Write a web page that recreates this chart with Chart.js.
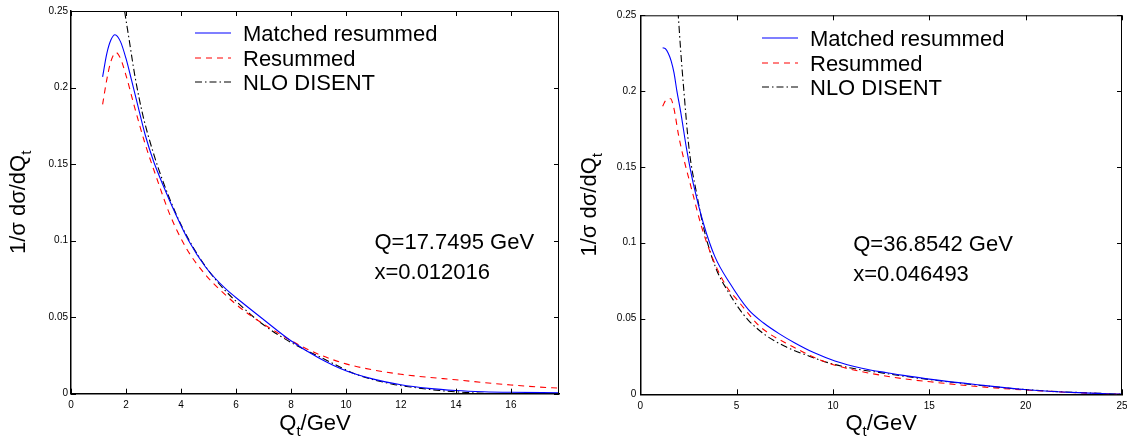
<!DOCTYPE html>
<html>
<head>
<meta charset="utf-8">
<script src="https://cdn.jsdelivr.net/npm/chart.js@4.4.0/dist/chart.umd.min.js"></script>
<style>
    html, body { margin: 0; padding: 0; background: #fff; overflow: hidden; }
    canvas { position: absolute; top: 0; }
    #leftChart { left: 0; }
    #rightChart { left: 563px; }
</style>
</head>
<body>
<canvas id="leftChart" width="563" height="436"></canvas>
<canvas id="rightChart" width="564" height="436"></canvas>
<script>
// axis ticks
const yTicks = [0, 0.05, 0.1, 0.15, 0.2, 0.25];
const yTickLabels = ['0', '0.05', '0.1', '0.15', '0.2', '0.25'];
const leftXTicks = [0, 2, 4, 6, 8, 10, 12, 14, 16];
const rightXTicks = [0, 5, 10, 15, 20, 25];
const leftXMax = 17.7495;
const rightXMax = 25;

const seriesNames = ['Matched resummed', 'Resummed', 'NLO DISENT'];
const leftInfo = ['Q=17.7495 GeV', 'x=0.012016'];
const rightInfo = ['Q=36.8542 GeV', 'x=0.046493'];
// the note sits at Qt = 11, one line at 0.1 and one at 0.08 in both panels
const infoQt = 11;
const infoVals = [0.1, 0.08];

// left panel (Q = 17.7495 GeV)
const leftMatchedQt = [1.15, 1.3, 1.45, 1.6, 1.8, 2.0, 2.2, 2.4, 2.7, 3.0, 3.4, 3.8, 4.27, 4.9, 5.6, 6.2, 7.0, 8.0, 9.0, 10.0, 11.0, 12.0, 13.0, 14.0, 15.0, 16.0, 17.75];
const leftMatchedVal = [0.207, 0.222, 0.231, 0.2345, 0.230, 0.219, 0.205, 0.1905, 0.169, 0.152, 0.134, 0.1175, 0.1002, 0.0826, 0.0689, 0.0599, 0.0485, 0.0346, 0.0235, 0.015, 0.0095, 0.0058, 0.0035, 0.0021, 0.0013, 0.0009, 0.0006];
const leftResumQt = [1.15, 1.3, 1.45, 1.64, 1.8, 2.0, 2.3, 2.7, 3.1, 3.6, 4.2, 4.9, 5.5, 6.2, 7.0, 8.3, 9.0, 10.0, 11.0, 12.0, 13.0, 14.0, 15.0, 16.0, 17.0, 17.75];
const leftResumVal = [0.189, 0.205, 0.217, 0.2228, 0.219, 0.208, 0.188, 0.163, 0.1417, 0.1168, 0.0948, 0.0775, 0.0665, 0.0555, 0.0455, 0.0318, 0.0258, 0.0195, 0.0155, 0.0127, 0.0107, 0.0091, 0.0073, 0.0057, 0.0044, 0.0036];
const leftNloQt = [1.88, 1.95, 2.1, 2.33, 2.6, 3.0, 3.36, 3.7, 4.08, 4.69, 5.4, 6.33, 7.0, 8.2, 9.0, 10.4, 11.7, 12.5, 13.4, 14.2, 15.0, 15.5];
const leftNloVal = [0.259, 0.25, 0.233, 0.207, 0.183, 0.157, 0.138, 0.1225, 0.1075, 0.0885, 0.0715, 0.055, 0.045, 0.0315, 0.0245, 0.0125, 0.0062, 0.004, 0.0021, 0.001, 0.0002, 0];

// right panel (Q = 36.8542 GeV)
const rightMatchedQt = [1.16, 1.3, 1.45, 1.6, 1.75, 1.9, 2.1, 2.4, 2.75, 3.27, 3.87, 4.65, 5.6, 6.4, 7.2, 8.0, 9.0, 10.1, 11.5, 12.8, 14.0, 15.0, 17.5, 20.1, 22.7, 25];
const rightMatchedVal = [0.2286, 0.228, 0.225, 0.220, 0.212, 0.200, 0.186, 0.162, 0.139, 0.113, 0.0908, 0.0732, 0.056, 0.047, 0.040, 0.034, 0.0275, 0.022, 0.0172, 0.0142, 0.0118, 0.010, 0.0063, 0.003, 0.0011, 0.0001];
const rightResumQt = [1.16, 1.3, 1.45, 1.58, 1.7, 1.8, 1.97, 2.15, 2.67, 3.18, 3.79, 4.48, 5.05, 5.43, 6.18, 7.87, 9.75, 12.8, 15.6, 18.4, 22.2, 25];
const rightResumVal = [0.190, 0.1935, 0.1948, 0.195, 0.191, 0.185, 0.172, 0.161, 0.135, 0.1105, 0.0886, 0.071, 0.062, 0.056, 0.045, 0.0317, 0.0207, 0.0119, 0.0075, 0.0042, 0.0013, 0];
const rightNloQt = [1.9, 1.97, 2.1, 2.23, 2.54, 2.9, 3.36, 3.96, 4.5, 5.1, 5.6, 6.5, 7.5, 8.8, 10.1, 12.8, 15.6, 20.1, 25];
const rightNloVal = [0.262, 0.25, 0.226, 0.205, 0.161, 0.134, 0.106, 0.082, 0.069, 0.057, 0.049, 0.039, 0.0317, 0.025, 0.0196, 0.0136, 0.0088, 0.003, 0];

const lineStyles = [
    { color: '#0000ff', dash: [] },
    { color: '#ff0000', dash: [6, 5] },
    { color: '#000000', dash: [7, 3, 1.5, 3] }
];

const FONT = '"Liberation Sans", Arial, Helvetica, sans-serif';

// draw a string made of parts, some of them subscripts
function drawParts(ctx, parts, x, y, size) {
    const subSize = Math.round(size * 0.7);
    let w = 0;
    parts.forEach(p => {
        ctx.font = (p.sub ? subSize : size) + 'px ' + FONT;
        p.w = ctx.measureText(p.t).width;
        w += p.w;
    });
    let cx = x - w / 2;
    parts.forEach(p => {
        ctx.font = (p.sub ? subSize : size) + 'px ' + FONT;
        ctx.fillText(p.t, cx, p.sub ? y + size * 0.28 : y);
        cx += p.w;
    });
}

// box round the axes with inward ticks on all four sides
const framePlugin = {
    id: 'frame',
    afterDraw(chart) {
        const { ctx, chartArea: a, scales } = chart;
        const len = 5;
        ctx.save();
        ctx.strokeStyle = '#000';
        ctx.lineWidth = 1;
        ctx.beginPath();
        ctx.moveTo(a.left, a.top + 0.5);
        ctx.lineTo(a.right - 0.5, a.top + 0.5);
        ctx.lineTo(a.right - 0.5, a.bottom);
        scales.x.ticks.forEach(t => {
            const px = Math.round(scales.x.getPixelForValue(t.value)) + 0.5;
            ctx.moveTo(px, a.bottom);
            ctx.lineTo(px, a.bottom - len);
            ctx.moveTo(px, a.top);
            ctx.lineTo(px, a.top + len);
        });
        scales.y.ticks.forEach(t => {
            const py = Math.round(scales.y.getPixelForValue(t.value)) + 0.5;
            ctx.moveTo(a.left, py);
            ctx.lineTo(a.left + len, py);
            ctx.moveTo(a.right, py);
            ctx.lineTo(a.right - len, py);
        });
        ctx.stroke();
        ctx.restore();
    }
};

// axis titles, legend and the Q / x note
const textPlugin = {
    id: 'plotText',
    afterDraw(chart, args, opts) {
        const { ctx, chartArea: a, scales } = chart;
        ctx.save();
        ctx.fillStyle = '#000';
        ctx.textBaseline = 'alphabetic';
        ctx.textAlign = 'left';

        // x title
        drawParts(ctx, [{ t: 'Q' }, { t: 't', sub: true }, { t: '/GeV' }], (a.left + a.right) / 2, opts.xTitleY, 22);

        // y title
        ctx.save();
        ctx.translate(opts.yTitleX, (a.top + a.bottom) / 2);
        ctx.rotate(-Math.PI / 2);
        drawParts(ctx, [{ t: '1/σ dσ/dQ' }, { t: 't', sub: true }], 0, 0, 22);
        ctx.restore();

        // legend (lines left soft, like the original)
        ctx.font = '22px ' + FONT;
        seriesNames.forEach((name, i) => {
            const y = opts.legendY + i * opts.legendStep;
            const ly = Math.round(y);
            ctx.save();
            ctx.strokeStyle = lineStyles[i].color;
            ctx.lineWidth = 1.2;
            ctx.setLineDash(lineStyles[i].dash);
            ctx.beginPath();
            ctx.moveTo(opts.legendX, ly);
            ctx.lineTo(opts.legendX + 36, ly);
            ctx.stroke();
            ctx.restore();
            ctx.fillText(name, opts.legendX + 48, y + 8);
        });

        // note, placed in data units, vertically centred on its value
        const nx = scales.x.getPixelForValue(infoQt) + 1;
        opts.info.forEach((line, i) => {
            ctx.fillText(line, nx, scales.y.getPixelForValue(infoVals[i]) + 8);
        });
        ctx.restore();
    }
};

function buildChart(id, cfg) {
    const datasets = cfg.series.map((s, i) => ({
        label: seriesNames[i],
        data: s.qt.map((q, k) => ({ x: q, y: s.val[k] })),
        borderColor: lineStyles[i].color,
        borderDash: lineStyles[i].dash,
        borderWidth: 1.1,
        pointRadius: 0,
        fill: false,
        cubicInterpolationMode: 'monotone'
    }));

    return new Chart(document.getElementById(id), {
        type: 'line',
        data: { datasets: datasets },
        options: {
            responsive: false,
            animation: false,
            events: [],
            layout: { padding: { left: 0, right: cfg.padRight, top: cfg.padTop, bottom: 0 } },
            plugins: {
                legend: { display: false },
                tooltip: { enabled: false },
                plotText: cfg.text
            },
            scales: {
                x: {
                    type: 'linear',
                    min: 0,
                    max: cfg.xMax,
                    grid: { display: false, drawTicks: false },
                    border: { display: true, color: '#000', width: 1.5 },
                    ticks: {
                        padding: 6,
                        color: '#000',
                        maxRotation: 0,
                        autoSkip: false,
                        font: { family: FONT, size: 10 }
                    },
                    afterBuildTicks: (scale) => { scale.ticks = cfg.xTicks.map(v => ({ value: v })); },
                    afterFit: (scale) => {
                        scale.height = cfg.xAxisHeight;
                        scale.paddingLeft = 0;
                        scale.paddingRight = 0;
                    }
                },
                y: {
                    type: 'linear',
                    min: 0,
                    max: 0.25,
                    grid: { display: false, drawTicks: false },
                    border: { display: true, color: '#000', width: 1.5 },
                    ticks: {
                        padding: cfg.yTickPad,
                        color: '#000',
                        font: { family: FONT, size: 10 },
                        callback: (value, idx) => yTickLabels[idx]
                    },
                    afterBuildTicks: (scale) => { scale.ticks = yTicks.map(v => ({ value: v })); },
                    afterFit: (scale) => {
                        scale.width = cfg.yAxisWidth;
                        scale.paddingTop = 0;
                        scale.paddingBottom = 0;
                    }
                }
            }
        },
        plugins: [framePlugin, textPlugin]
    });
}

buildChart('leftChart', {
    series: [
        { qt: leftMatchedQt, val: leftMatchedVal },
        { qt: leftResumQt, val: leftResumVal },
        { qt: leftNloQt, val: leftNloVal }
    ],
    xMax: leftXMax,
    xTicks: leftXTicks,
    padTop: 11,
    padRight: 4,
    xAxisHeight: 42.3,
    yAxisWidth: 71,
    yTickPad: 3,
    text: {
        xTitleY: 430, yTitleX: 25,
        legendX: 195, legendY: 33, legendStep: 24.5,
        info: leftInfo
    }
});

buildChart('rightChart', {
    series: [
        { qt: rightMatchedQt, val: rightMatchedVal },
        { qt: rightResumQt, val: rightResumVal },
        { qt: rightNloQt, val: rightNloVal }
    ],
    xMax: rightXMax,
    xTicks: rightXTicks,
    padTop: 15.3,
    padRight: 5,
    xAxisHeight: 41.7,
    yAxisWidth: 77.3,
    yTickPad: 4,
    text: {
        xTitleY: 430, yTitleX: 33,
        legendX: 199, legendY: 38, legendStep: 24.7,
        info: rightInfo
    }
});
</script>
</body>
</html>
